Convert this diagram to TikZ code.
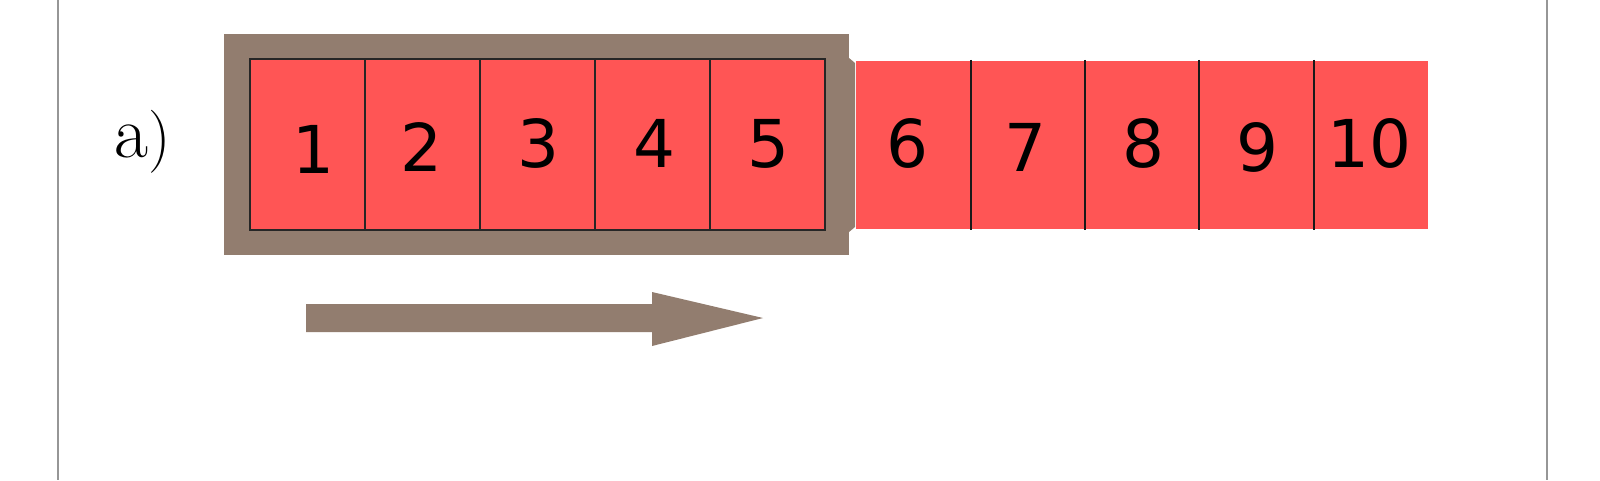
\documentclass[tikz,border=0pt]{standalone}
\usepackage{fontspec}
\newfontfamily\digitfont{DejaVu Sans}
\definecolor{cellred}{RGB}{255,85,85}
\definecolor{framebrown}{RGB}{146,125,111}
\definecolor{rulegray}{RGB}{150,150,150}
\begin{document}
\begin{tikzpicture}[x=1pt,y=-1pt,
  cellbox/.style={rectangle, inner sep=0pt, minimum width=115pt, minimum height=171pt,
    fill=cellred, draw=black!85, line width=1.3pt},
  freecell/.style={rectangle, inner sep=0pt, minimum width=114.4pt, minimum height=168pt,
    fill=cellred, draw=none},
  digit/.style={anchor=base, inner sep=0pt, font=\digitfont\fontsize{66}{66}\selectfont},
  divider/.style={draw=black!90, line width=2pt},
  sideline/.style={draw=rulegray, line width=1.6pt},
]
\useasboundingbox (0,0) rectangle (1600,480);
\fill[white] (0,0) rectangle (1600,480);
% side rules
\coordinate (lt) at (58,0);   \coordinate (lb) at (58,480);
\coordinate (rt) at (1547,0); \coordinate (rb) at (1547,480);
\draw[sideline] (lt) -- (lb);
\draw[sideline] (rt) -- (rb);
% label
\node[anchor=base west, inner sep=0pt] (lab) at (114,157)
  {\fontsize{74}{74}\selectfont a\fontsize{63}{63}\selectfont)};
% window frame
\node[rectangle, fill=framebrown, inner sep=0pt, minimum width=625pt, minimum height=221pt]
  (frame) at (536.5,144.5) {};
\fill[framebrown] (849,58) -- (855,63) -- (855,227) -- (849,232) -- cycle;
% cells inside the window
\foreach \i/\cx in {1/307.5,2/422.5,3/537.5,4/652.5,5/767.5}
  \node[cellbox] (c\i) at (\cx,144.5) {};
% cells outside the window
\foreach \i/\cx in {6/913.2,7/1027.6,8/1142,9/1256.4,10/1370.8}
  \node[freecell] (c\i) at (\cx,145) {};
\foreach \i in {6,7,8,9}
  \draw[divider] ([yshift=1pt]c\i.north east) -- ([yshift=-1pt]c\i.south east);
% numbers
\foreach \i/\cx/\by in {1/313/173,2/421/171,3/538/167,4/654/167,5/768/167,
                        6/907/167,7/1025/171,8/1143/167,9/1257/171,10/1369/167}
  \node[digit] (n\i) at (\cx,\by) {\i};
% moving direction arrow
\fill[framebrown] (306,304) -- (652,304) -- (652,292) -- (763,318) -- (652,346)
  -- (652,332) -- (306,332) -- cycle;
\end{tikzpicture}
\end{document}
